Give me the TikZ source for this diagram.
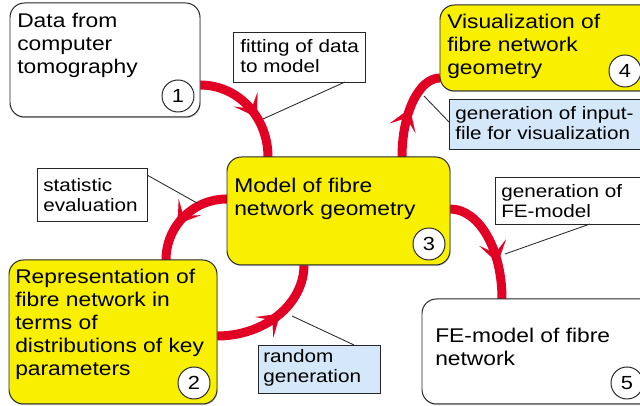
\documentclass[tikz,border=0pt]{standalone}
\usepackage{fontspec}
\setmainfont{Liberation Sans}[FakeStretch=1.15]
\usetikzlibrary{arrows.meta,decorations.markings,shadows}
\definecolor{boxyellow}{RGB}{248,240,0}
\definecolor{boxblue}{RGB}{212,232,250}
\definecolor{flowred}{RGB}{226,0,36}
\newlength{\unitpx}\setlength{\unitpx}{0.025cm}
\pgfdeclarelayer{canvas}
\pgfdeclarelayer{back}
\pgfsetlayers{canvas,back,main}

\begin{document}
\begin{tikzpicture}[x=0.025cm, y=0.025cm,
    stagebox/.style={draw=black!85, line width=0.7pt, rounded corners=0.36cm, anchor=north west,
      inner sep=0pt, outer sep=0pt, drop shadow={shadow xshift=0.4pt, shadow yshift=-0.8pt, opacity=0.45}},
    notebox/.style={draw=black!85, line width=0.6pt, anchor=north west, inner sep=0pt, outer sep=0pt},
    bigtext/.style={anchor=base west, align=left, inner sep=0pt, font=\fontsize{14.1}{16.5}\selectfont},
    smalltext/.style={anchor=base west, align=left, inner sep=0pt, font=\fontsize{12.8}{14.3}\selectfont},
    stepno/.style={circle, draw=black!85, fill=white, line width=0.7pt, minimum size=0.8cm,
      inner sep=0pt, font=\fontsize{13.5}{16}\selectfont},
    flow/.style={draw=flowred, line width=0.225cm, postaction={decorate},
      decoration={markings, mark=at position #1 with
        {\arrow[flowred]{Stealth[length=0.52cm, width=0.68cm, inset=0.27cm, line width=0.01pt]}}}},
    leader/.style={draw=black!85, line width=0.6pt}]
    \useasboundingbox (0,0) rectangle (640,406);
    \clip (0,0) rectangle (640,406);
    \begin{pgfonlayer}{canvas}
      \fill[white] (0,0) rectangle (640,406);
    \end{pgfonlayer}
    % Stage boxes
    \node[stagebox, fill=white, minimum width=190\unitpx, minimum height=114\unitpx] (ct) at (10,403) {};
    \node[stagebox, fill=boxyellow, minimum width=223\unitpx, minimum height=108\unitpx] (model) at (227,249) {};
    \node[stagebox, fill=boxyellow, minimum width=240\unitpx, minimum height=86\unitpx] (visual) at (440,401) {};
    \node[stagebox, fill=boxyellow, minimum width=208\unitpx, minimum height=144\unitpx] (distrib) at (9,146) {};
    \node[stagebox, fill=white, minimum width=240\unitpx, minimum height=105\unitpx] (femodel) at (422,107) {};
    % Stage texts (anchored at the baseline of the last line)
    \node[bigtext] (cttext) at (17,332) {Data from\\computer\\tomography};
    \node[bigtext] (modeltext) at (234,190) {Model of fibre\\network geometry};
    \node[bigtext] (visualtext) at (447,331) {Visualization of\\fibre network\\geometry};
    \node[bigtext] (distribtext) at (15,30) {Representation of\\fibre network in\\terms of\\distributions of key\\parameters};
    \node[bigtext] (femodeltext) at (435,40) {FE-model of fibre\\network};
    % Step numbers
    \node[stepno] (n1) at (178,310) {1};
    \node[stepno] (n2) at (194,23) {2};
    \node[stepno] (n3) at (429,162) {3};
    \node[stepno] (n4) at (625,335) {4};
    \node[stepno] (n5) at (627,23) {5};
    % Notes on the steps
    \node[notebox, fill=white, minimum width=132\unitpx, minimum height=50\unitpx] (fitnote) at (233,374) {};
    \node[notebox, fill=white, minimum width=110\unitpx, minimum height=53\unitpx] (statnote) at (37,238) {};
    \node[notebox, fill=boxblue, minimum width=220\unitpx, minimum height=50\unitpx] (inputnote) at (449,307) {};
    \node[notebox, fill=white, minimum width=200\unitpx, minimum height=47\unitpx] (fegennote) at (495,229) {};
    \node[notebox, fill=boxblue, minimum width=122\unitpx, minimum height=48\unitpx] (randnote) at (258,61) {};
    \node[smalltext] (fittext) at (240,333) {fitting of data\\to model};
    \node[smalltext] (stattext) at (43,194) {statistic\\evaluation};
    \node[smalltext] (inputtext) at (455,266) {generation of input-\\file for visualization};
    \node[smalltext] (fegentext) at (501,188) {generation of\\FE-model};
    \node[smalltext] (randtext) at (263,23) {random\\generation};
    % Red flow arrows
    \begin{pgfonlayer}{back}
      \draw[flow=0.62] (ct.east |- 0,321) .. controls (238,321) and (268,289) .. (model.north -| 268,0);
      \draw[flow=0.52] (model.north -| 402,0) .. controls (402,293) and (419,328) .. (visual.west |- 0,328);
      \draw[flow=0.68] (model.east |- 0,197) .. controls (479,197) and (502,157) .. (femodel.north -| 502,0);
      \draw[flow=0.55] (distrib.east |- 0,70) .. controls (265,70) and (304,102) .. (model.south -| 304,0);
      \draw[flow=0.6] (model.west |- 0,207) .. controls (193,207) and (166,180) .. (distrib.north -| 166,0);
    \end{pgfonlayer}
    % Leader lines from notes to arrows
    \coordinate (fitpt) at (263,287);
    \coordinate (statpt) at (197,203);
    \coordinate (inputpt) at (424,310);
    \coordinate (fegenpt) at (505,152);
    \coordinate (randpt) at (292,90);
    \draw[leader] (fitnote.south -| 345,0) -- (fitpt);
    \draw[leader] (statnote.east |- 0,231) -- (statpt);
    \draw[leader] (inputnote.west |- 0,284) -- (inputpt);
    \draw[leader] (fegennote.south -| 590,0) -- (fegenpt);
    \draw[leader] (randnote.north -| 354,0) -- (randpt);
\end{tikzpicture}
\end{document}
